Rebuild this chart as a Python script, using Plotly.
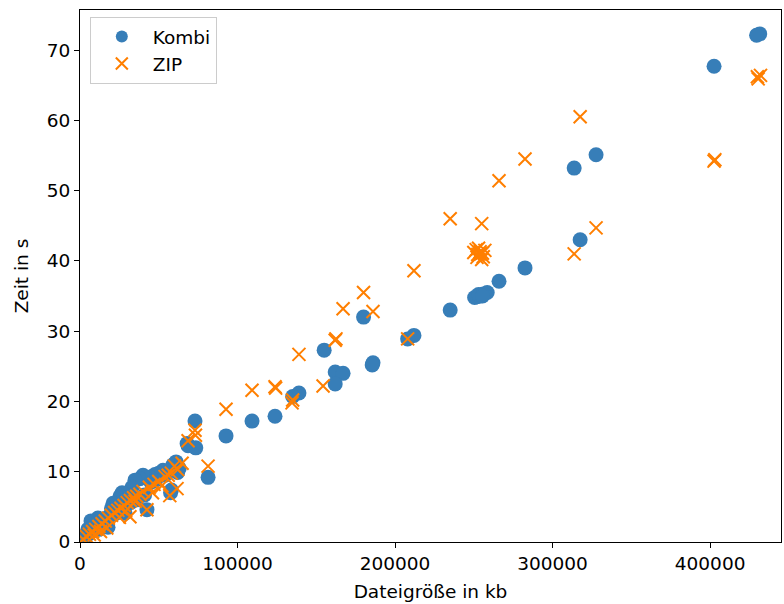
import plotly.graph_objects as go

# Dateigröße (kb) und Laufzeit (s) der Kombi-Kompression
kombi_kb = [431500, 429500, 402500, 327600, 313700, 317500, 282500, 266000,
            258500, 256000, 254000, 252000, 250500, 235000, 212000, 208000,
            180000, 186000, 185500, 155000, 162000, 167000, 162000, 139000,
            135000, 123800, 109200, 92700, 81300, 73000, 73500, 68600, 68000,
            61000, 59000, 63000, 62000, 57000, 58000, 57500, 52700, 50000,
            47600, 44000, 40000, 38000, 34900, 33000, 42500, 41000, 36000,
            30000, 28000, 26700, 25400, 24000, 21000, 20000, 28600, 18000,
            17800, 15000, 13000, 11400, 10000, 8000, 7000, 6000, 5000, 4000,
            3000, 2500, 2000, 9000, 12000, 16000, 22000, 27000, 32000, 45000,
            48000, 54000, 253000, 255500]
kombi_s = [72.3, 72.1, 67.7, 55.1, 53.2, 43.0, 39.0, 37.1,
           35.5, 35.3, 35.0, 34.9, 34.8, 33.0, 29.4, 28.9,
           32.0, 25.5, 25.2, 27.3, 24.2, 24.0, 22.5, 21.2,
           20.7, 17.9, 17.2, 15.1, 9.2, 17.2, 13.4, 13.7, 14.0,
           11.4, 11.0, 10.5, 9.9, 10.2, 7.4, 7.0, 10.2, 9.8,
           9.6, 9.2, 9.5, 9.0, 8.8, 7.8, 4.6, 6.7, 6.0,
           6.2, 6.8, 7.0, 6.5, 5.5, 5.5, 4.8, 4.1, 3.6,
           2.1, 3.0, 2.6, 3.4, 2.4, 1.6, 3.0, 1.2, 1.8, 0.9,
           0.6, 0.4, 0.3, 2.0, 1.8, 3.2, 4.0, 5.0, 5.6, 8.5,
           8.8, 9.5, 35.2, 35.0]

# Dateigröße (kb) und Laufzeit (s) der ZIP-Kompression
zip_kb = [430000, 432000, 430500, 402500, 403000, 317500, 327600, 313700,
          282500, 266000, 255000, 235000, 212000, 250000, 252000, 253000,
          254500, 256000, 257000, 255000, 251500, 208000, 180000, 186000,
          167000, 162000, 162500, 154300, 139000, 134600, 135000, 123800,
          124200, 109200, 92700, 81300, 73000, 73300, 68600, 64800, 62000,
          60000, 61600, 57000, 56000, 54000, 50000, 47000, 44000, 42500,
          40000, 38000, 36000, 34000, 31700, 32000, 30000, 28000, 26000,
          24000, 22000, 20000, 18000, 16000, 14000, 12000, 10000, 8000,
          6000, 4000, 2000, 17000, 13000, 9000, 25000, 29000, 35000, 46000,
          52000, 58000, 253500, 254000, 255500, 252500]
zip_s = [66.2, 66.4, 65.9, 54.2, 54.4, 60.5, 44.7, 41.0,
         54.5, 51.4, 45.3, 46.0, 38.6, 41.2, 40.5, 41.8,
         41.0, 40.6, 41.5, 40.2, 41.6, 28.9, 35.5, 32.8,
         33.2, 28.7, 28.9, 22.2, 26.7, 19.8, 20.2, 22.1,
         21.9, 21.6, 18.9, 10.8, 15.9, 15.2, 14.4, 11.2, 10.3,
         10.8, 7.6, 6.6, 9.5, 9.3, 8.6, 8.2, 7.8, 4.6,
         7.2, 6.8, 6.5, 6.3, 3.6, 5.9, 5.6, 5.2, 4.8,
         4.5, 4.2, 3.8, 3.4, 3.0, 2.6, 2.2, 1.8, 1.5,
         1.1, 0.8, 0.4, 2.0, 1.5, 1.0, 3.5, 4.4, 5.8, 7.0,
         8.0, 9.8, 41.0, 41.3, 41.1, 40.9]

x_ticks = [0, 100000, 200000, 300000, 400000]
y_ticks = [0, 10, 20, 30, 40, 50, 60, 70]

font = dict(family="DejaVu Sans", size=18.5, color="black")

fig = go.Figure()
fig.add_trace(go.Scatter(
    x=kombi_kb, y=kombi_s, mode="markers", name="Kombi",
    marker=dict(symbol="circle", size=15, color="#377eb8", line=dict(width=0)),
))
fig.add_trace(go.Scatter(
    x=zip_kb, y=zip_s, mode="markers", name="ZIP",
    marker=dict(symbol="x-thin", size=13, color="#ff7f00",
                line=dict(width=2, color="#ff7f00")),
))

axis_common = dict(
    showgrid=False, zeroline=False, showline=True, linecolor="black",
    linewidth=1.2, mirror=True, ticks="outside", ticklen=5, tickwidth=1.2,
    tickcolor="black", tickfont=font,
)

fig.update_layout(
    width=784, height=604,
    margin=dict(l=80, r=3, t=10, b=62),
    paper_bgcolor="white", plot_bgcolor="white",
    font=font,
    showlegend=True,
    legend=dict(
        x=0.014, y=0.987, xanchor="left", yanchor="top",
        bgcolor="rgba(255,255,255,0.8)", bordercolor="#cccccc", borderwidth=1,
        font=dict(family="DejaVu Sans", size=18.5, color="black"),
        itemsizing="constant", itemwidth=52, tracegroupgap=4,
    ),
    xaxis=dict(range=[0, 445000], tickvals=x_ticks,
               ticktext=[str(v) for v in x_ticks],
               title=dict(text="Dateigröße in kb", font=font, standoff=11),
               **axis_common),
    yaxis=dict(range=[0, 75.7], tickvals=y_ticks,
               ticktext=[str(v) for v in y_ticks],
               title=dict(text="Zeit in s", font=font, standoff=13),
               **axis_common),
)

fig.write_html("out.html")
